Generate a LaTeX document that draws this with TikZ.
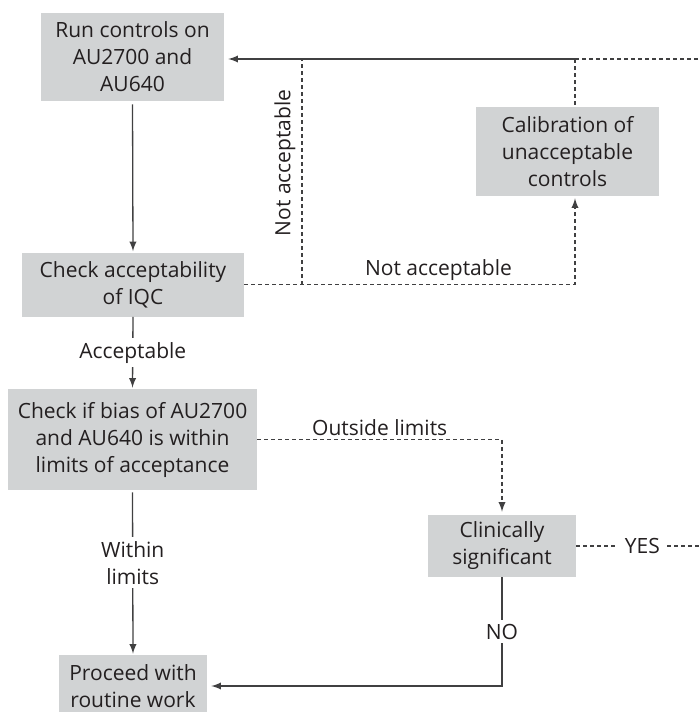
\documentclass[tikz,border=0pt]{standalone}
\usepackage{fontspec}
\setmainfont{Open Sans}
\usetikzlibrary{arrows}
\usetikzlibrary{positioning}
\definecolor{boxgray}{HTML}{D1D3D4}
\definecolor{inkgray}{HTML}{231F20}
\definecolor{linegray}{HTML}{404041}

\begin{document}
\begin{tikzpicture}[x=0.5pt,y=-0.5pt,>=latex,
    box/.style={fill=boxgray,align=center,inner sep=0pt,text=inkgray,
      font=\fontsize{10.5}{13.5}\selectfont},
    lbl/.style={fill=white,text=inkgray,inner sep=2pt,align=center,
      font=\fontsize{10.5}{13.5}\selectfont},
    txt/.style={text=inkgray,font=\fontsize{10.5}{13.5}\selectfont},
    solidline/.style={draw=linegray,line width=0.65pt},
    dashline/.style={draw=linegray,line width=0.65pt,dash pattern=on 2pt off 1.5pt}]

        \useasboundingbox (0,0) rectangle (699,712);

        % boxes
        \node[box,minimum width=91.5pt,minimum height=44pt] (run) at (132.5,57)
          {Run controls on\\AU2700 and\\AU640};
        \node[box,minimum width=111pt,minimum height=32pt] (chk) at (133,284.5)
          {Check acceptability\\of IQC};
        \node[box,minimum width=124.5pt,minimum height=50.5pt] (bias) at (132.5,439.5)
          {Check if bias of AU2700\\and AU640 is within\\limits of acceptance};
        \node[box,minimum width=74pt,minimum height=31pt] (proc) at (133,686)
          {Proceed with\\routine work};
        \node[box,minimum width=74pt,minimum height=31pt] (clin) at (502,546)
          {Clinically\\significant};
        \node[box,minimum width=91.5pt,minimum height=44.5pt] (calib) at (567.5,151.5)
          {Calibration of\\unacceptable\\controls};

        \coordinate (ctop) at (575,59);
        \coordinate (natop) at (302,59);
        \coordinate (cbot) at (chk.east -| ctop);
        \coordinate (nabot) at (chk.east -| natop);
        \coordinate (topend) at (720,59);
        \coordinate (yesend) at (720,546);

        % main line
        \draw[solidline,->,shorten <=1.5pt,shorten >=0.5pt] (run.south) -- (chk.north);
        \draw[solidline,->,shorten >=0.5pt] (chk.south) --
          node[lbl] {Acceptable} (bias.north);
        \draw[solidline,->,shorten <=1pt,shorten >=0.5pt] (bias.south) --
          node[lbl,pos=0.44] {Within\\limits} (proc.north);
        \draw[solidline,->,shorten >=2pt] (clin.south) |-
          node[lbl,pos=0.25] {NO} (proc.east);

        % not acceptable loop
        \draw[dashline,->,shorten >=1pt] (chk.east) -- (nabot) --
          node[txt,above,inner sep=1.5pt] {Not acceptable} (cbot) -- (cbot |- calib.south);
        \draw[dashline] (nabot) -- node[txt,pos=0.54,rotate=90,anchor=south,inner sep=3pt]
          {Not acceptable} (natop);
        \draw[solidline,->,shorten >=2pt] (ctop) -- (ctop -| run.east);
        \draw[dashline] (ctop) -- (ctop |- calib.north);
        \draw[dashline] (ctop) -- (topend);

        % bias outside limits
        \draw[dashline,->,shorten >=1.5pt] (bias.east) -|
          node[txt,pos=0.25,above,inner sep=1.5pt] {Outside limits} (clin.north);
        \draw[dashline] (clin.east) -- node[lbl,pos=0.46,inner xsep=3.5pt] {YES} (yesend);
      \end{tikzpicture}
\end{document}
